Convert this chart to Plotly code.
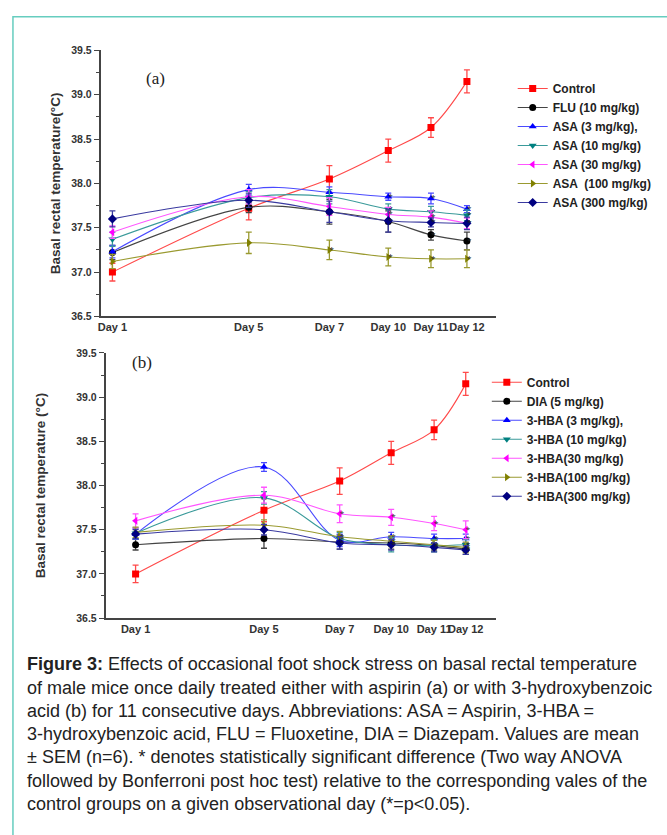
import plotly.graph_objects as go

# ── Data ─────────────────────────────────────────────
day_labels = ["Day 1", "Day 5", "Day 7", "Day 10", "Day 11", "Day 12"]
# uneven spacing of the day categories along each x axis (axis units 0-10)
day_pos_a = [0.30, 3.75, 5.79, 7.28, 8.36, 9.27]
day_pos_b = [0.77, 4.06, 6.00, 7.32, 8.42, 9.23]

control = [37.00, 37.72, 38.05, 38.37, 38.63, 39.15]
control_err = [0.10, 0.13, 0.15, 0.13, 0.11, 0.13]

# panel (a): aspirin
flu = [37.22, 37.73, 37.68, 37.57, 37.42, 37.35]
flu_err = [0.08, 0.06, 0.14, 0.12, 0.06, 0.10]
asa3 = [37.23, 37.93, 37.90, 37.85, 37.83, 37.71]
asa3_err = [0.07, 0.06, 0.06, 0.04, 0.06, 0.04]
asa10 = [37.37, 37.84, 37.85, 37.71, 37.68, 37.64]
asa10_err = [0.08, 0.07, 0.08, 0.06, 0.06, 0.06]
asa30 = [37.45, 37.85, 37.74, 37.65, 37.62, 37.55]
asa30_err = [0.07, 0.08, 0.10, 0.08, 0.07, 0.06]
asa100 = [37.12, 37.33, 37.25, 37.17, 37.15, 37.15]
asa100_err = [0.08, 0.12, 0.11, 0.10, 0.10, 0.10]
asa300 = [37.60, 37.81, 37.68, 37.58, 37.56, 37.55]
asa300_err = [0.09, 0.08, 0.12, 0.13, 0.05, 0.07]

# panel (b): 3-hydroxybenzoic acid
dia = [37.33, 37.40, 37.36, 37.35, 37.32, 37.28]
dia_err = [0.06, 0.11, 0.08, 0.07, 0.06, 0.06]
hba3 = [37.45, 38.21, 37.38, 37.42, 37.40, 37.40]
hba3_err = [0.06, 0.05, 0.07, 0.05, 0.05, 0.05]
hba10 = [37.46, 37.86, 37.40, 37.33, 37.32, 37.33]
hba10_err = [0.06, 0.07, 0.07, 0.08, 0.07, 0.06]
hba30 = [37.60, 37.89, 37.68, 37.64, 37.57, 37.50]
hba30_err = [0.08, 0.09, 0.10, 0.09, 0.08, 0.10]
hba100 = [37.47, 37.55, 37.42, 37.37, 37.33, 37.30]
hba100_err = [0.06, 0.06, 0.06, 0.06, 0.05, 0.06]
hba300 = [37.45, 37.50, 37.35, 37.33, 37.30, 37.27]
hba300_err = [0.05, 0.06, 0.07, 0.06, 0.05, 0.05]

# significance vs control (* p<0.05)
sig_none = [0, 0, 0, 0, 0, 0]
sig_late = [0, 0, 0, 1, 1, 1]
sig_d7 = [0, 0, 1, 1, 1, 1]

caption_lines = [
    "<b>Figure 3:</b> Effects of occasional foot shock stress on basal rectal temperature",
    "of male mice once daily treated either with aspirin (a) or with 3-hydroxybenzoic",
    "acid (b) for 11 consecutive days. Abbreviations: ASA = Aspirin, 3-HBA =",
    "3-hydroxybenzoic acid, FLU = Fluoxetine, DIA = Diazepam. Values are mean",
    "± SEM (n=6). * denotes statistically significant difference (Two way ANOVA",
    "followed by Bonferroni post hoc test) relative to the corresponding vales of the",
    "control groups on a given observational day (*=p<0.05).",
]

# ── Series styles ────────────────────────────────────
styles = [
    ("#ff0000", "#ff4a4a", "square"),
    ("#000000", "#444444", "circle"),
    ("#0000ff", "#4a4aff", "triangle-up"),
    ("#008080", "#3a9a9a", "triangle-down"),
    ("#ff00ff", "#ff55ff", "triangle-left"),
    ("#808000", "#9a9a30", "triangle-right"),
    ("#000080", "#3a3aa0", "diamond"),
]

panel_a = [
    ("Control", control, control_err, sig_none),
    ("FLU (10 mg/kg)", flu, flu_err, sig_late),
    ("ASA (3 mg/kg),", asa3, asa3_err, sig_late),
    ("ASA (10 mg/kg)", asa10, asa10_err, sig_late),
    ("ASA (30 mg/kg)", asa30, asa30_err, sig_late),
    ("ASA  (100 mg/kg)", asa100, asa100_err, sig_d7),
    ("ASA (300 mg/kg)", asa300, asa300_err, sig_late),
]
panel_b = [
    ("Control", control, control_err, sig_none),
    ("DIA (5 mg/kg)", dia, dia_err, sig_d7),
    ("3-HBA (3 mg/kg),", hba3, hba3_err, sig_d7),
    ("3-HBA (10 mg/kg)", hba10, hba10_err, sig_d7),
    ("3-HBA(30 mg/kg)", hba30, hba30_err, sig_d7),
    ("3-HBA(100 mg/kg)", hba100, hba100_err, sig_d7),
    ("3-HBA(300 mg/kg)", hba300, hba300_err, sig_d7),
]

fig = go.Figure()


def add_panel(series, xpos, xa, ya, legend):
    for (name, vals, errs, sig), (mcol, lcol, sym) in zip(series, styles):
        fig.add_trace(go.Scatter(
            x=xpos, y=vals, name=name, mode="lines+markers",
            xaxis=xa, yaxis=ya, legend=legend,
            line=dict(color=lcol, width=1.1, shape="spline", smoothing=1.0),
            marker=dict(color=mcol, symbol=sym, size=7),
            error_y=dict(type="data", array=errs, color=lcol, thickness=1.3, width=3),
        ))
        sx = [x for x, s in zip(xpos, sig) if s]
        sy = [y for y, s in zip(vals, sig) if s]
        if sx:
            fig.add_trace(go.Scatter(
                x=sx, y=sy, mode="text", text=["*"] * len(sx),
                textposition="middle right", textfont=dict(size=8, color="#222"),
                xaxis=xa, yaxis=ya, showlegend=False, hoverinfo="skip",
            ))


add_panel(panel_a, day_pos_a, "x", "y", "legend")
add_panel(panel_b, day_pos_b, "x2", "y2", "legend2")

W, H = 667, 835
tick_font = dict(family="Arial", size=10.5, color="#333", weight="bold")
xtick_font = dict(family="Arial", size=11, color="#333", weight="bold")
title_font = dict(family="Arial", size=13.5, color="#333", weight="bold")
legend_font = dict(family="Arial", size=12, color="#222", weight="bold")

yaxis_common = dict(
    range=[36.5, 39.5], dtick=0.5, tickformat=".1f", showgrid=False, zeroline=False,
    showline=True, linecolor="#444", linewidth=1.5, ticks="outside", ticklen=5,
    tickcolor="#444", tickwidth=1.2, tickfont=tick_font,
    minor=dict(ticks="outside", ticklen=3, dtick=0.25, tickcolor="#444"),
)
xaxis_common = dict(
    range=[0, 10], showgrid=False, zeroline=False, showline=True, linecolor="#444",
    linewidth=1.5, ticks="", tickangle=0, tickfont=xtick_font,
)

fig.update_layout(
    width=W, height=H, paper_bgcolor="white", plot_bgcolor="white",
    margin=dict(l=0, r=0, t=0, b=0),
    xaxis=dict(**xaxis_common, domain=[98 / W, 495 / W], anchor="y",
               tickvals=day_pos_a, ticktext=day_labels),
    yaxis=dict(**yaxis_common, domain=[1 - 315 / H, 1 - 45 / H], anchor="x",
               title=dict(text="Basal rectal temperature(°C)", font=title_font, standoff=8)),
    xaxis2=dict(**xaxis_common, domain=[103 / W, 495 / W], anchor="y2",
                tickvals=day_pos_b, ticktext=day_labels),
    yaxis2=dict(**yaxis_common, domain=[1 - 621 / H, 1 - 352 / H], anchor="x2",
                title=dict(text="Basal rectal temperature (°C)", font=title_font, standoff=28)),
    legend=dict(x=512 / W, y=1 - 69 / H, xanchor="left", yanchor="top",
                bgcolor="rgba(0,0,0,0)", tracegroupgap=0, font=legend_font),
    legend2=dict(x=486 / W, y=1 - 367 / H, xanchor="left", yanchor="top",
                 bgcolor="rgba(0,0,0,0)", tracegroupgap=0, font=legend_font),
    showlegend=True,
)

# panel labels
fig.add_annotation(text="(a)", x=142 / W, y=1 - 62 / H, xref="paper", yref="paper",
                   showarrow=False, font=dict(family="Times New Roman, Liberation Serif", size=17, color="#222"))
fig.add_annotation(text="(b)", x=128 / W, y=1 - 362 / H, xref="paper", yref="paper",
                   showarrow=False, font=dict(family="Times New Roman, Liberation Serif", size=17, color="#222"))

# caption
for i, line in enumerate(caption_lines):
    fig.add_annotation(text=line, x=22 / W, y=1 - (668 + i * 23.6) / H,
                       xref="paper", yref="paper", xanchor="left", yanchor="middle",
                       showarrow=False, align="left",
                       font=dict(family="Arial", size=18, color="#222"))

# teal frame
fig.add_shape(type="rect", xref="paper", yref="paper", x0=10 / W, x1=1.05,
              y0=-0.05, y1=1 - 11 / H, line=dict(color="#66cdbf", width=1.5))

fig.write_html("out.html", config={"displayModeBar": False},
               post_script="document.body.style.margin='0';")
